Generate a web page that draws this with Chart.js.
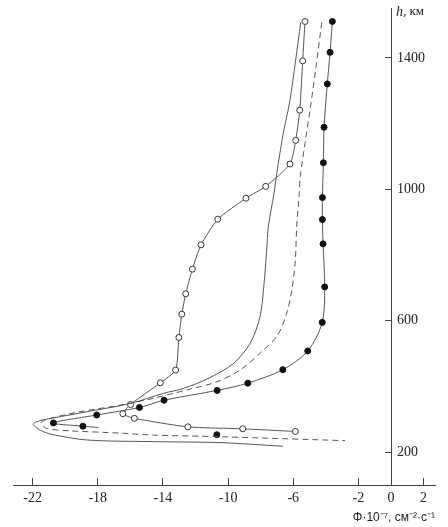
<!DOCTYPE html>
<html>
<head>
<meta charset="utf-8">
<script src="https://cdn.jsdelivr.net/npm/chart.js@4.4.0/dist/chart.umd.min.js"></script>
<style>
    html, body { margin: 0; padding: 0; background: #fff; }
    #wrap { width: 448px; height: 527px; }
</style>
</head>
<body>
<div id="wrap"><canvas id="fluxchart"></canvas></div>
<script>
// tick labels
const xTicks = [-22, -18, -14, -10, -6, -2, 0, 2];
const yTicks = [200, 600, 1000, 1400];

// solid curve, no markers
const solX = [-5.54, -6.20, -6.61, -7.01, -7.18, -7.53, -7.63, -7.79, -8.04, -8.65, -9.67, -11.23, -12.74, -13.97, -16.01, -18.67, -20.72, -21.53, -21.96, -21.53, -20.9, -18.67, -14.58, -10.49, -6.63];
const solH = [1508, 1272, 1171, 1049, 988, 886, 815, 714, 612, 531, 470, 424, 394, 379, 348, 323, 304, 296, 285, 267, 255, 237, 232, 229, 218];

// dashed curve
const dashX = [-4.25, -4.60, -4.97, -5.28, -5.58, -5.63, -5.79, -5.87, -6.09, -6.40, -6.96, -8.04, -9.26, -10.69, -12.33, -14.58, -16.63, -19.08, -21.12, -21.49, -21.12, -19.69, -16.63, -14.58, -10.49, -2.82];
const dashH = [1508, 1374, 1242, 1140, 1034, 988, 886, 785, 693, 623, 556, 501, 450, 414, 392, 364, 343, 323, 300, 289, 272, 265, 258, 252, 247, 235];

// open circles
const openX = [-5.28, -5.42, -5.60, -5.85, -6.20, -7.69, -8.90, -10.63, -11.66, -12.19, -12.60, -12.84, -13.02, -13.22, -14.16, -15.99, -16.46, -15.75, -12.47, -9.10, -5.87];
const openH = [1511, 1391, 1241, 1149, 1077, 1009, 973, 909, 831, 757, 682, 620, 549, 450, 411, 345, 317, 303, 277, 271, 263];

// filled circles (last point is the end of the line, no marker)
const fillX = [-3.60, -3.74, -3.91, -4.11, -4.15, -4.21, -4.21, -4.17, -4.07, -4.22, -5.11, -6.64, -8.79, -10.67, -13.93, -15.44, -18.06, -20.72, -18.91, -17.96];
const fillH = [1511, 1417, 1321, 1189, 1081, 975, 908, 834, 703, 595, 508, 451, 410, 388, 358, 336, 313, 289, 279, 275];

// single filled point off the curve
const dotX = [-10.69];
const dotH = [253];

function pts(xs, hs) {
    return xs.map((v, i) => ({ x: v, y: hs[i] }));
}

const lineColor = '#555';

// y labels sit to the right of the axis at x = 0
const yLabelPlugin = {
    id: 'yLabels',
    afterDraw(chart) {
        const ctx = chart.ctx;
        const xs = chart.scales.x, ys = chart.scales.y;
        const x0 = xs.getPixelForValue(0);
        ctx.save();
        ctx.fillStyle = '#222';
        ctx.textAlign = 'left';
        ctx.textBaseline = 'middle';
        ctx.font = '14px "Liberation Serif"';
        ys.ticks.forEach(t => {
            ctx.fillText(String(t.value), x0 + 6, ys.getPixelForValue(t.value));
        });
        ctx.font = 'italic 14px "Liberation Serif"';
        ctx.fillText('h', x0 + 5, ys.top + 4);
        const w = ctx.measureText('h').width;
        ctx.font = '13px "Liberation Serif"';
        ctx.fillText(', км', x0 + 5 + w, ys.top + 4);
        ctx.restore();
    }
};

const data = {
    datasets: [{
        label: 'solid',
        data: pts(solX, solH),
        borderColor: lineColor,
        borderWidth: 1,
        pointRadius: 0,
        tension: 0.3,
        showLine: true
    }, {
        label: 'dashed',
        data: pts(dashX, dashH),
        borderColor: lineColor,
        borderWidth: 1,
        borderDash: [6, 4],
        pointRadius: 0,
        tension: 0.3,
        showLine: true
    }, {
        label: 'open',
        data: pts(openX, openH),
        borderColor: lineColor,
        borderWidth: 1,
        pointRadius: 3,
        pointBackgroundColor: '#fff',
        pointBorderColor: '#333',
        pointBorderWidth: 1,
        tension: 0.2,
        showLine: true
    }, {
        label: 'filled',
        data: pts(fillX, fillH),
        borderColor: lineColor,
        borderWidth: 1,
        pointRadius: fillX.map((v, i) => i === fillX.length - 1 ? 0 : 3),
        pointBackgroundColor: '#111',
        pointBorderColor: '#111',
        tension: 0.3,
        showLine: true
    }, {
        label: 'dot',
        data: pts(dotX, dotH),
        pointRadius: 3,
        pointBackgroundColor: '#111',
        pointBorderColor: '#111',
        showLine: false
    }]
};

const config = {
    type: 'scatter',
    data: data,
    plugins: [yLabelPlugin],
    options: {
        responsive: true,
        maintainAspectRatio: false,
        animation: false,
        layout: {
            padding: { left: 13, right: 13, top: 8, bottom: 0 }
        },
        plugins: {
            legend: { display: false },
            tooltip: { enabled: false }
        },
        scales: {
            x: {
                type: 'linear',
                position: 'bottom',
                min: -23.2,
                max: 2.7,
                afterBuildTicks: scale => { scale.ticks = xTicks.map(v => ({ value: v })); },
                afterFit: scale => { scale.height = 42; },
                grid: {
                    drawOnChartArea: false,
                    tickLength: -7,
                    color: '#444'
                },
                border: { color: '#444', width: 1 },
                ticks: {
                    padding: 12,
                    color: '#222',
                    font: { family: 'Liberation Serif', size: 14 },
                    callback: v => String(v)
                },
                title: {
                    display: true,
                    text: 'Φ·10⁻⁷, см⁻²·с⁻¹',
                    align: 'end',
                    color: '#222',
                    font: { family: 'Liberation Sans', size: 12 },
                    padding: { top: 0, bottom: 2 }
                }
            },
            y: {
                type: 'linear',
                position: { x: 0 },
                min: 100,
                max: 1552,
                afterBuildTicks: scale => { scale.ticks = yTicks.map(v => ({ value: v })); },
                afterFit: scale => { scale.width = 0; },
                grid: {
                    drawOnChartArea: false,
                    tickLength: 6,
                    color: '#444'
                },
                border: { color: '#444', width: 1 },
                ticks: { display: false }
            }
        }
    }
};

var fluxChart = new Chart(document.getElementById('fluxchart'), config);
</script>
</body>
</html>
